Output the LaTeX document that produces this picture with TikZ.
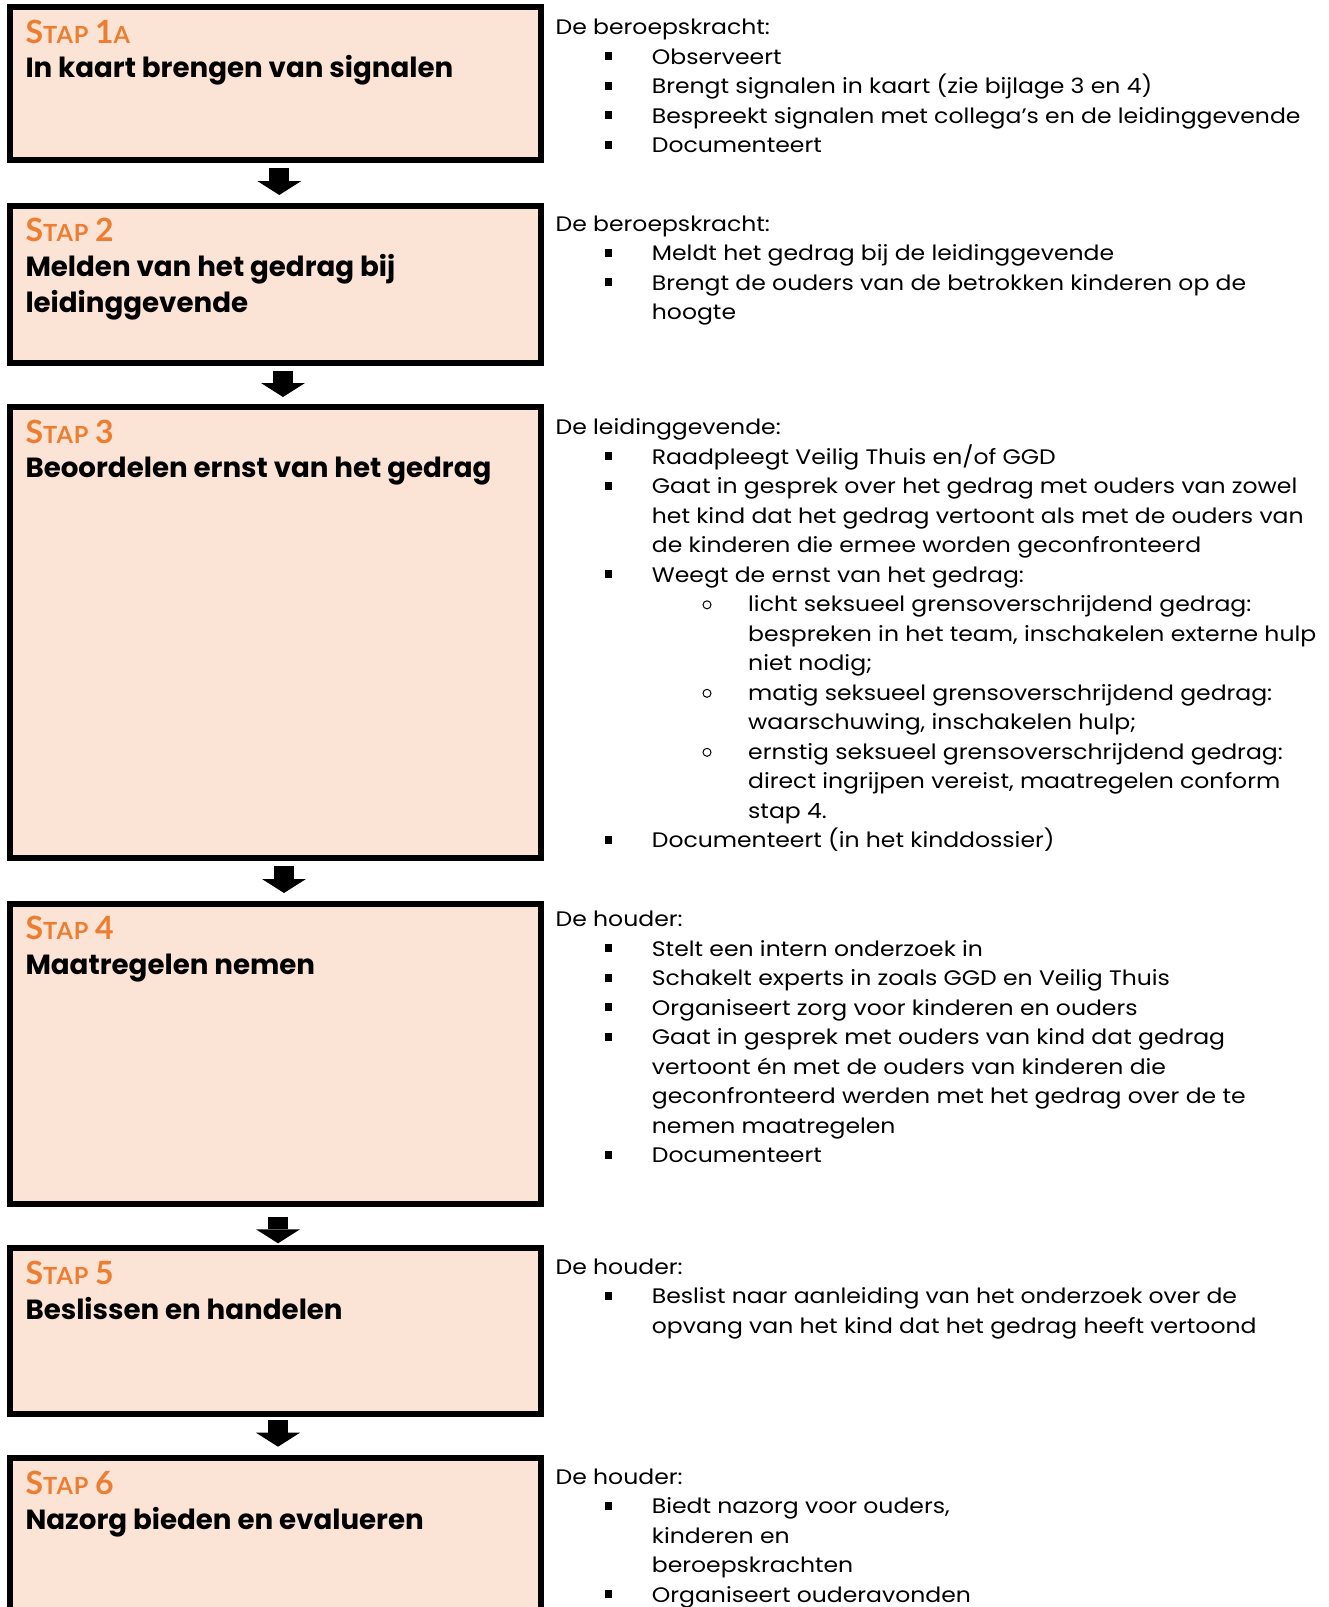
\documentclass[tikz,border=0pt]{standalone}
\usepackage{fontspec}
\setmainfont{Poppins}
\newfontfamily\bodyfont[FakeStretch=1.12]{Poppins}
\newfontfamily\titlefont{Poppins}
\newfontfamily\stapfont[LetterSpace=4]{Lato}
\usetikzlibrary{calc,arrows.meta}
\definecolor{stapor}{HTML}{ED7D31}
\definecolor{boxfill}{HTML}{FBE4D5}
\newcommand{\stp}[2]{{\fontsize{32}{32}\selectfont S}{\fontsize{23.6}{24}\selectfont TAP }{\fontsize{32}{32}\selectfont #1}{\fontsize{23.6}{24}\selectfont #2}}
\begin{document}
\begin{tikzpicture}[x=1pt,y=-1pt,
  stepbox/.style={draw=black, line width=6pt, fill=boxfill, rectangle, inner sep=0pt, minimum width=530.7pt},
  body/.style={anchor=base west, inner sep=0pt, font=\bodyfont\fontsize{21}{22}\selectfont},
  ttl/.style={anchor=base west, inner sep=0pt, font=\titlefont\bfseries\fontsize{27.7}{28}\selectfont},
  stap/.style={anchor=base west, inner sep=0pt, text=stapor, font=\stapfont\bfseries},
  sq/.style={fill=black, inner sep=0pt, minimum width=7pt, minimum height=8pt, rectangle},
  circ/.style={draw=black, line width=1pt, circle, inner sep=0pt, minimum size=8pt},
  blockarrow/.style={line width=20pt, -{Triangle[width=44pt,length=14pt,line width=0pt]}},
]
\useasboundingbox (0,0) rectangle (1329,1607);
\clip (0,0) rectangle (1329,1607);

% boxes
\node[stepbox, minimum height=152.7pt] (b1) at (275.35,83.35) {};
\node[stepbox, minimum height=157pt] (b2) at (275.35,284) {};
\node[stepbox, minimum height=450.7pt] (b3) at (275.35,632.65) {};
\node[stepbox, minimum height=300.3pt] (b4) at (275.35,1053.85) {};
\node[stepbox, minimum height=165.5pt] (b5) at (275.35,1331.05) {};
\node[stepbox, minimum height=181.7pt] (b6) at (275.35,1549.15) {};

% arrows
\draw[blockarrow] ($(b1.south)+(3.95,5.6)$) -- ($(b2.north)+(3.95,-7.5)$);
\draw[blockarrow] ($(b2.south)+(7.65,5.5)$) -- ($(b3.north)+(7.65,-7.3)$);
\draw[blockarrow] ($(b3.south)+(8.65,5)$) -- ($(b4.north)+(8.65,-7.7)$);
\draw[blockarrow] ($(b4.south)+(2.65,9.7)$) -- ($(b5.north)+(2.65,-2)$);
\draw[blockarrow] ($(b5.south)+(2.65,3.2)$) -- ($(b6.north)+(2.65,-8.6)$);

% titles
\node[stap] (s1) at (25.3,43) {\stp{1}{A}};
\node[ttl] (t1) at (25.3,77.3) {In kaart brengen van signalen};
\node[stap] (s2) at (25.3,241.7) {\stp{2}{}};
\node[ttl] (t2) at (25.3,276) {Melden van het gedrag bij};
\node[ttl] (t2b) at (25.3,312) {leidinggevende};
\node[stap] (s3) at (25.3,443.3) {\stp{3}{}};
\node[ttl] (t3) at (25.3,477.6) {Beoordelen ernst van het gedrag};
\node[stap] (s4) at (25.3,939.7) {\stp{4}{}};
\node[ttl] (t4) at (25.3,974) {Maatregelen nemen};
\node[stap] (s5) at (25.3,1284.7) {\stp{5}{}};
\node[ttl] (t5) at (25.3,1319) {Beslissen en handelen};
\node[stap] (s6) at (25.3,1494.7) {\stp{6}{}};
\node[ttl] (t6) at (25.3,1529) {Nazorg bieden en evalueren};

% block 1
\node[body] (r1h) at (555.5,34.3) {De beroepskracht:};
\node[sq] (r1q1) at (608.5,56.3) {}; \node[body] (r1l1) at (651.7,64.3) {Observeert};
\node[sq] (r1q2) at (608.5,85.8) {}; \node[body] (r1l2) at (651.7,93.8) {Brengt signalen in kaart (zie bijlage 3 en 4)};
\node[sq] (r1q3) at (608.5,115.3) {}; \node[body] (r1l3) at (651.7,123.3) {Bespreekt signalen met collega’s en de leidinggevende};
\node[sq] (r1q4) at (608.5,144.8) {}; \node[body] (r1l4) at (651.7,152.8) {Documenteert};

% block 2
\node[body] (r2h) at (555.5,231) {De beroepskracht:};
\node[sq] (r2q1) at (608.5,252.5) {}; \node[body] (r2l1) at (651.7,260.5) {Meldt het gedrag bij de leidinggevende};
\node[sq] (r2q2) at (608.5,282) {}; \node[body] (r2l2) at (651.7,290) {Brengt de ouders van de betrokken kinderen op de};
\node[body] (r2l3) at (651.7,319.5) {hoogte};

% block 3
\node[body] (r3h) at (555.5,434.8) {De leidinggevende:};
\node[sq] (r3q1) at (608.5,456.3) {}; \node[body] (r3l1) at (651.7,464.3) {Raadpleegt Veilig Thuis en/of GGD};
\node[sq] (r3q2) at (608.5,485.8) {}; \node[body] (r3l2) at (651.7,493.8) {Gaat in gesprek over het gedrag met ouders van zowel};
\node[body] (r3l3) at (651.7,523.3) {het kind dat het gedrag vertoont als met de ouders van};
\node[body] (r3l4) at (651.7,552.8) {de kinderen die ermee worden geconfronteerd};
\node[sq] (r3q5) at (608.5,574.3) {}; \node[body] (r3l5) at (651.7,582.3) {Weegt de ernst van het gedrag:};
\node[circ] (r3c6) at (707,604.8) {}; \node[body] (r3l6) at (748,611.8) {licht seksueel grensoverschrijdend gedrag:};
\node[body] (r3l7) at (748,641.3) {bespreken in het team, inschakelen externe hulp};
\node[body] (r3l8) at (748,670.8) {niet nodig;};
\node[circ] (r3c9) at (707,693.3) {}; \node[body] (r3l9) at (748,700.3) {matig seksueel grensoverschrijdend gedrag:};
\node[body] (r3l10) at (748,729.8) {waarschuwing, inschakelen hulp;};
\node[circ] (r3c11) at (707,752.3) {}; \node[body] (r3l11) at (748,759.3) {ernstig seksueel grensoverschrijdend gedrag:};
\node[body] (r3l12) at (748,788.8) {direct ingrijpen vereist, maatregelen conform};
\node[body] (r3l13) at (748,818.3) {stap 4.};
\node[sq] (r3q14) at (608.5,839.8) {}; \node[body] (r3l14) at (651.7,847.8) {Documenteert (in het kinddossier)};

% block 4
\node[body] (r4h) at (555.5,926.5) {De houder:};
\node[sq] (r4q1) at (608.5,948) {}; \node[body] (r4l1) at (651.7,956) {Stelt een intern onderzoek in};
\node[sq] (r4q2) at (608.5,977.5) {}; \node[body] (r4l2) at (651.7,985.5) {Schakelt experts in zoals GGD en Veilig Thuis};
\node[sq] (r4q3) at (608.5,1007) {}; \node[body] (r4l3) at (651.7,1015) {Organiseert zorg voor kinderen en ouders};
\node[sq] (r4q4) at (608.5,1036.5) {}; \node[body] (r4l4) at (651.7,1044.5) {Gaat in gesprek met ouders van kind dat gedrag};
\node[body] (r4l5) at (651.7,1074) {vertoont én met de ouders van kinderen die};
\node[body] (r4l6) at (651.7,1103.5) {geconfronteerd werden met het gedrag over de te};
\node[body] (r4l7) at (651.7,1133) {nemen maatregelen};
\node[sq] (r4q8) at (608.5,1154.5) {}; \node[body] (r4l8) at (651.7,1162.5) {Documenteert};

% block 5
\node[body] (r5h) at (555.5,1274) {De houder:};
\node[sq] (r5q1) at (608.5,1295.5) {}; \node[body] (r5l1) at (651.7,1303.5) {Beslist naar aanleiding van het onderzoek over de};
\node[body] (r5l2) at (651.7,1333) {opvang van het kind dat het gedrag heeft vertoond};

% block 6
\node[body] (r6h) at (555.5,1484) {De houder:};
\node[sq] (r6q1) at (608.5,1505.5) {}; \node[body] (r6l1) at (651.7,1513.5) {Biedt nazorg voor ouders,};
\node[body] (r6l2) at (651.7,1543) {kinderen en};
\node[body] (r6l3) at (651.7,1572.5) {beroepskrachten};
\node[sq] (r6q4) at (608.5,1594) {}; \node[body] (r6l4) at (651.7,1602) {Organiseert ouderavonden};
\end{tikzpicture}
\end{document}
